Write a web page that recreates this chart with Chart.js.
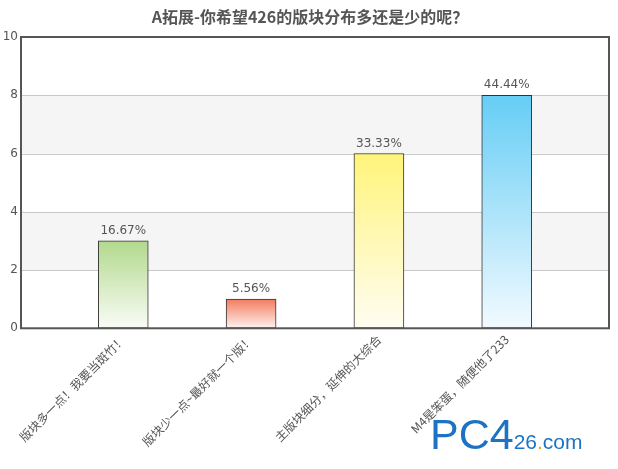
<!DOCTYPE html>
<html>
<head>
<meta charset="utf-8">
<script src="https://cdn.jsdelivr.net/npm/chart.js@4.4.1/dist/chart.umd.min.js"></script>
<style>
  html, body { margin: 0; padding: 0; background: #fff; }
  #wrap { width: 618px; height: 469px; position: relative; }
</style>
</head>
<body>
<div id="wrap"><canvas id="chart" width="618" height="469"></canvas></div>
<script>
// ===== data =====
const chartTitle = "A拓展-你希望426的版块分布多还是少的呢？";
const categories = [
  "版块多一点！我要当斑竹！",
  "版块少一点~最好就一个版！",
  "主版块细分，延伸的大综合",
  "M4是笨蛋，随便他了233"
];
const votes = [3, 1, 6, 8];
const percentLabels = ["16.67%", "5.56%", "33.33%", "44.44%"];
const yTicks = [0, 2, 4, 6, 8, 10];

const topColors = ["#b2d98c", "#f27c5e", "#fff47a", "#66cdf5"];
const bottomColors = ["#fafcf7", "#fff2f0", "#fffdf2", "#f2faff"];

const FONT = "'DejaVu Sans', Verdana, sans-serif";
const CJK = "'Noto Sans CJK SC', 'DejaVu Sans', sans-serif";

function barFill(ctx) {
  const chart = ctx.chart;
  const i = ctx.dataIndex;
  if (!chart.chartArea || i === undefined) return topColors[i] || "#ccc";
  const y = chart.scales.y;
  const top = y.getPixelForValue(votes[i]);
  const bottom = y.getPixelForValue(0);
  const g = chart.ctx.createLinearGradient(0, top, 0, bottom);
  g.addColorStop(0, topColors[i]);
  g.addColorStop(1, bottomColors[i]);
  return g;
}

// title, alternating bands, frame, value labels, logo
const decor = {
  id: "decor",
  beforeDatasetsDraw(chart) {
    const { ctx, chartArea: a, scales: { y } } = chart;
    ctx.save();
    ctx.fillStyle = "#f5f5f5";
    [[2, 4], [6, 8]].forEach(([lo, hi]) => {
      const t = y.getPixelForValue(hi), b = y.getPixelForValue(lo);
      ctx.fillRect(a.left, t, a.right - a.left, b - t);
    });
    ctx.strokeStyle = "#c8c8c8";
    ctx.lineWidth = 1;
    [2, 4, 6, 8].forEach(v => {
      const p = Math.round(y.getPixelForValue(v)) + 0.5;
      ctx.beginPath();
      ctx.moveTo(a.left, p);
      ctx.lineTo(a.right, p);
      ctx.stroke();
    });
    ctx.restore();
  },
  afterDraw(chart) {
    const { ctx, chartArea: a } = chart;
    ctx.save();
    ctx.fillStyle = "#555";
    ctx.font = "bold 16px " + CJK;
    ctx.textAlign = "center";
    ctx.textBaseline = "middle";
    ctx.fillText(chartTitle, 310, 17);

    ctx.strokeStyle = "#555";
    ctx.lineWidth = 2;
    ctx.strokeRect(a.left, a.top, a.right - a.left, a.bottom - a.top);

    const meta = chart.getDatasetMeta(0);
    ctx.font = "12px " + FONT;
    ctx.textBaseline = "bottom";
    meta.data.forEach((bar, i) => {
      ctx.fillText(percentLabels[i], bar.x, bar.y - 4);
    });

    // site logo
    ctx.textAlign = "left";
    ctx.textBaseline = "alphabetic";
    ctx.fillStyle = "#1c73c4";
    ctx.font = "43px 'Liberation Sans', Arial, sans-serif";
    ctx.fillText("PC4", 430, 449);
    const w = ctx.measureText("PC4").width;
    ctx.font = "21px 'Liberation Sans', Arial, sans-serif";
    ctx.fillText("26", 430 + w, 449);
    const w2 = ctx.measureText("26").width;
    ctx.fillStyle = "#f39a1c";
    ctx.fillText(".", 430 + w + w2, 449);
    const w3 = ctx.measureText(".").width;
    ctx.fillStyle = "#1c73c4";
    ctx.fillText("com", 430 + w + w2 + w3, 449);
    ctx.restore();
  }
};

new Chart(document.getElementById("chart"), {
  type: "bar",
  data: {
    datasets: [{
      data: votes.map((v, i) => ({ x: i, y: v })),
      backgroundColor: barFill,
      borderColor: "#333",
      borderWidth: 1,
      borderSkipped: false,
      barThickness: 50
    }]
  },
  options: {
    responsive: false,
    animation: false,
    events: [],
    layout: { padding: { left: 2, right: 9, top: 37, bottom: 16 } },
    plugins: {
      legend: { display: false },
      tooltip: { enabled: false },
      title: { display: false }
    },
    scales: {
      x: {
        type: "linear",
        offset: false,
        min: -0.8,
        max: 3.8,
        afterBuildTicks: s => { s.ticks = categories.map((c, i) => ({ value: i })); },
        grid: { display: false, drawTicks: false },
        border: { display: false },
        ticks: {
          color: "#555",
          font: { family: CJK, size: 12 },
          minRotation: 45,
          maxRotation: 45,
          padding: 4,
          callback: v => categories[v]
        }
      },
      y: {
        min: 0,
        max: 10,
        afterBuildTicks: s => { s.ticks = yTicks.map(v => ({ value: v })); },
        afterFit: s => { s.width = 19; },
        grid: { display: false, drawTicks: false },
        border: { display: false },
        ticks: {
          color: "#555",
          font: { family: FONT, size: 12 },
          padding: 3
        }
      }
    }
  },
  plugins: [decor]
});
</script>
</body>
</html>
